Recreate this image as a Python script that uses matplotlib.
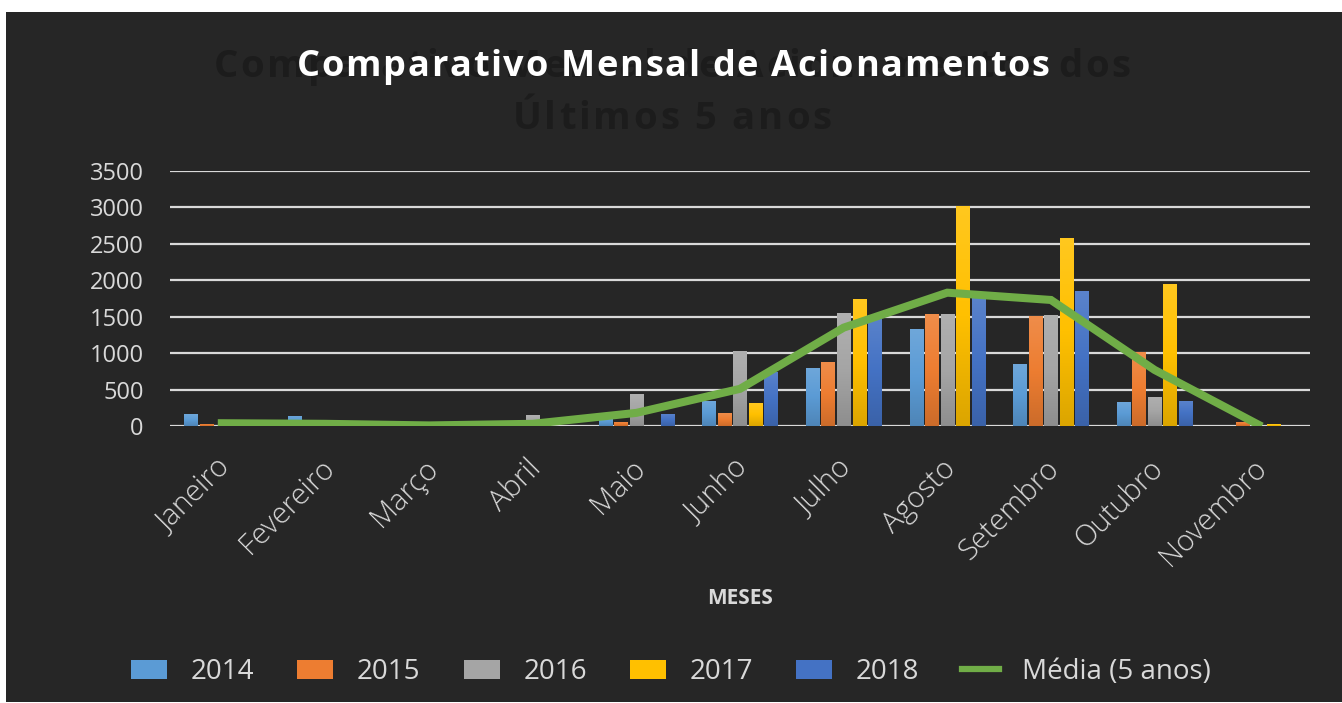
import matplotlib
matplotlib.use("Agg")
import matplotlib.pyplot as plt
import matplotlib.transforms as mtransforms
import numpy as np
from matplotlib.colors import to_rgb, LinearSegmentedColormap
from matplotlib.font_manager import FontProperties
from matplotlib.patches import Rectangle, Patch
from matplotlib.lines import Line2D

# ---- data ----
months = ['Janeiro', 'Fevereiro', 'Março', 'Abril', 'Maio', 'Junho',
          'Julho', 'Agosto', 'Setembro', 'Outubro', 'Novembro']
years = ['2014', '2015', '2016', '2017', '2018']
v2014 = [160, 140, 0, 0, 110, 350, 800, 1330, 850, 330, 0]
v2015 = [30, 0, 0, 0, 55, 175, 875, 1535, 1505, 1010, 60]
v2016 = [0, 0, 0, 150, 440, 1030, 1545, 1535, 1520, 400, 0]
v2017 = [0, 0, 0, 0, 0, 315, 1745, 3020, 2580, 1950, 25]
v2018 = [0, 0, 0, 0, 165, 745, 1530, 1780, 1850, 350, 0]
media = [38, 30, 8, 30, 180, 510, 1350, 1830, 1730, 770, 20]
media_label = 'Média (5 anos)'
yticks = [0, 500, 1000, 1500, 2000, 2500, 3000, 3500]
title = 'Comparativo Mensal de Acionamentos'
ghost_lines = ['Comparativo Mensal de Acionamentos dos', 'Últimos 5 anos']
xlabel = 'MESES'

series = [v2014, v2015, v2016, v2017, v2018]
colors = ['#5B9BD5', '#ED7D31', '#A5A5A5', '#FFC000', '#4472C4']
green = '#70AD47'
BG = '#262626'
TXT = '#d9d9d9'
FONT = 'Open Sans'

W, H, DPI = 1342, 703, 100
fig = plt.figure(figsize=(W / DPI, H / DPI), dpi=DPI, facecolor='white')
fig.patches.append(Rectangle((6 / W, 1 / H), 1 - 6 / W, (702 - 12) / H,
                             transform=fig.transFigure, facecolor=BG,
                             edgecolor='none', zorder=-10))

# axes: x 170..1310, y 171..426 px
ax = fig.add_axes([170 / W, (H - 426) / H, 1140 / W, 255 / H])
ax.set_facecolor('none')
for s in ax.spines.values():
    s.set_visible(False)


def grad_cmap(c):
    r = np.array(to_rgb(c))
    top = r + (1 - r) * 0.12
    bot = r * 0.86
    return LinearSegmentedColormap.from_list('g', [bot, r, top])


x = np.arange(len(months))
slot = 0.15
bw = 0.128
for i, (vals, c) in enumerate(zip(series, colors)):
    bars = ax.bar(x + (i - 2) * slot, vals, width=bw, color=c,
                  edgecolor='none', zorder=3, label=years[i])
    cm = grad_cmap(c)
    for b in bars:
        if b.get_height() <= 0:
            continue
        x0, y0 = b.get_x(), b.get_y()
        im = ax.imshow(np.linspace(0, 1, 64).reshape(-1, 1), cmap=cm,
                       origin='lower', aspect='auto', zorder=3.1,
                       extent=(x0, x0 + b.get_width(), y0, y0 + b.get_height()),
                       interpolation='bilinear')
        im.set_clip_path(b)
ax.plot(x, media, color=green, lw=5.8, zorder=4, solid_joinstyle='miter',
        label=media_label)

ax.set_xlim(-0.5, len(months) - 0.5)
ax.set_ylim(0, 3500)
ax.set_yticks(yticks)
ax.set_yticklabels([str(v) for v in yticks], fontfamily=FONT, fontsize=17,
                   color=TXT)
ax.yaxis.grid(True, color='#d9d9d9', lw=1.6, zorder=1)
ax.set_axisbelow(True)
ax.tick_params(axis='y', length=0, pad=19)
ax.set_xticks(x)
ax.set_xticklabels(months, rotation=45, ha='right', va='top',
                   rotation_mode='anchor', fontfamily=FONT, fontsize=21,
                   fontweight='light', color=TXT)
ax.tick_params(axis='x', length=0, pad=20)
shift = mtransforms.ScaledTranslation(-6 / DPI, 0, fig.dpi_scale_trans)
for lab in ax.get_xticklabels():
    lab.set_transform(lab.get_transform() + shift)

fig.text(740 / W, (H - 598) / H, xlabel, ha='center', va='center',
         fontfamily=FONT, fontweight='bold', fontsize=15, color=TXT)

# ---- letter-spaced titles ----
renderer = fig.canvas.get_renderer()


def advances(s, fp):
    base, _, _ = renderer.get_text_width_height_descent('HH', fp, ismath=False)
    out = []
    for ch in s:
        w, _, _ = renderer.get_text_width_height_descent('H' + ch + 'H', fp,
                                                         ismath=False)
        out.append(w - base)
    return out


def spaced(s, cx, ybase, width, fp, color, z):
    adv = advances(s, fp)
    tracking = (width - sum(adv)) / (len(s) - 1)
    pos = cx - width / 2
    for ch, a in zip(s, adv):
        if ch != ' ':
            fig.text((pos + a / 2) / W, (H - ybase) / H, ch, ha='center',
                     va='baseline', fontproperties=fp, color=color, zorder=z)
        pos += a + tracking


gfp = FontProperties(family=FONT, weight='bold', size=27.5)
tfp = FontProperties(family=FONT, weight='bold', size=26)
spaced(ghost_lines[0], 672, 77, 917, gfp, '#1c1c1c', 1)
spaced(ghost_lines[1], 672, 129, 319, gfp, '#1c1c1c', 1)
spaced(title, 673, 76, 753, tfp, 'white', 2)

# ---- legend ----
handles = [Patch(facecolor=c, edgecolor='none') for c in colors]
handles.append(Line2D([], [], color=green, lw=4.5))
labels = years + [media_label]
leg = fig.legend(handles, labels, loc='center', ncol=6,
                 bbox_to_anchor=(671 / W, (H - 672) / H), frameon=False,
                 prop=FontProperties(family=FONT, size=20),
                 handlelength=1.3, handleheight=0.65, handletextpad=0.85,
                 columnspacing=1.55, borderaxespad=0)
for t in leg.get_texts():
    t.set_color(TXT)

fig.savefig('out.png', dpi=DPI, facecolor=fig.get_facecolor())
